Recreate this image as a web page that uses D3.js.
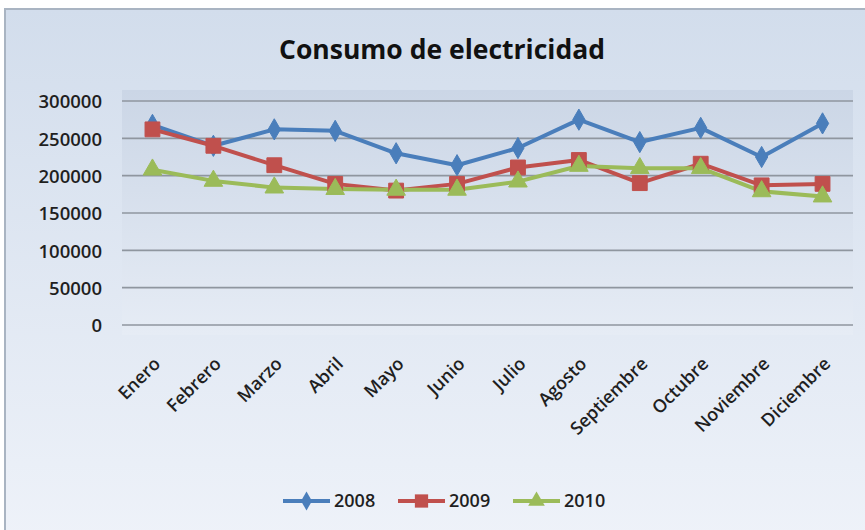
<!DOCTYPE html>
<html>
<head>
<meta charset="utf-8">
<script src="https://cdn.jsdelivr.net/npm/d3@7"></script>
<style>
  html, body { margin: 0; padding: 0; background: #ffffff; }
  svg { display: block; }
</style>
</head>
<body>
<svg id="chart" width="865" height="530"></svg>
<script>
// Monthly electricity consumption, three years
const months = ["Enero", "Febrero", "Marzo", "Abril", "Mayo", "Junio", "Julio",
                "Agosto", "Septiembre", "Octubre", "Noviembre", "Diciembre"];
const years = ["2008", "2009", "2010"];
const values2008 = [268000, 240000, 262000, 260000, 230000, 214000, 237000, 275000, 245000, 264000, 225000, 270000];
const values2009 = [262000, 240000, 214000, 189000, 180000, 189000, 211000, 221000, 190000, 216000, 187000, 189000];
const values2010 = [208000, 193000, 184000, 182000, 181000, 181000, 192000, 213000, 210000, 210000, 179000, 172000];
const yTicks = [0, 50000, 100000, 150000, 200000, 250000, 300000];

const series = [
  { name: years[0], values: values2008, color: "#4a7ebb", marker: d3.symbolDiamond, size: 130 },
  { name: years[1], values: values2009, color: "#c0504d", marker: d3.symbolSquare, size: 220 },
  { name: years[2], values: values2010, color: "#9bbb59", marker: d3.symbolTriangle, size: 150 }
];

const svg = d3.select("#chart");
const font = "'Open Sans', 'Noto Sans', sans-serif";

// Chart background and frame
const defs = svg.append("defs");
const bg = defs.append("linearGradient").attr("id", "bg").attr("x1", 0).attr("y1", 0).attr("x2", 0).attr("y2", 1);
bg.append("stop").attr("offset", "0%").attr("stop-color", "#d2ddec");
bg.append("stop").attr("offset", "100%").attr("stop-color", "#eef2f9");
const pg = defs.append("linearGradient").attr("id", "pg").attr("x1", 0).attr("y1", 0).attr("x2", 0).attr("y2", 1);
pg.append("stop").attr("offset", "0%").attr("stop-color", "#cbd6e6");
pg.append("stop").attr("offset", "100%").attr("stop-color", "#e6ecf5");

svg.append("rect").attr("x", 5).attr("y", 9).attr("width", 870).attr("height", 530)
  .attr("fill", "url(#bg)").attr("stroke", "#a9b4c2").attr("stroke-width", 2);

const margin = { left: 122, right: 12 };
const width = 865 - margin.left - margin.right;

const x = d3.scaleBand().domain(months).range([margin.left, margin.left + width]);
const y = d3.scaleLinear().domain([0, 300000]).range([325, 101]);

// Plot area
svg.append("rect").attr("x", margin.left).attr("y", 90)
  .attr("width", width).attr("height", 245).attr("fill", "url(#pg)");

// Gridlines
svg.append("g").selectAll("line").data(yTicks).join("line")
  .attr("x1", margin.left).attr("x2", margin.left + width)
  .attr("y1", d => y(d)).attr("y2", d => y(d))
  .attr("stroke", "#8f969f").attr("stroke-width", 1.6);

// Y axis labels
const yAxis = d3.axisLeft(y).tickValues(yTicks).tickSize(0).tickPadding(0).tickFormat(d3.format("d"));
const gy = svg.append("g").attr("transform", "translate(102,0)").call(yAxis);
gy.select(".domain").remove();
gy.selectAll("text").attr("font-family", font).attr("font-size", 18.5).attr("font-weight", 600)
  .attr("fill", "#1f1f1f").attr("dy", "0.36em");

// X axis labels (rotated)
const xAxis = d3.axisBottom(x).tickSize(0).tickPadding(0);
const gx = svg.append("g").attr("transform", "translate(0,325)").call(xAxis);
gx.select(".domain").remove();
gx.selectAll("text")
  .attr("font-family", font).attr("font-size", 18).attr("font-weight", 600).attr("fill", "#1f1f1f")
  .attr("text-anchor", "end").attr("dy", 0)
  .attr("transform", "translate(9,40) rotate(-45)");

// Title
svg.append("text").attr("x", 442).attr("y", 59).attr("text-anchor", "middle")
  .attr("font-family", font).attr("font-size", 26).attr("font-weight", 700)
  .attr("textLength", 326).attr("lengthAdjust", "spacingAndGlyphs")
  .attr("fill", "#111").text("Consumo de electricidad");

// Series lines and markers
const cx = m => x(m) + x.bandwidth() / 2;
const line = d3.line().x((d, i) => cx(months[i])).y(d => y(d));

series.forEach(s => {
  svg.append("path").datum(s.values).attr("d", line)
    .attr("fill", "none").attr("stroke", s.color).attr("stroke-width", 4)
    .attr("stroke-linejoin", "round");
});
series.forEach(s => {
  svg.append("g").selectAll("path").data(s.values).join("path")
    .attr("d", d3.symbol().type(s.marker).size(s.size))
    .attr("transform", (d, i) => `translate(${cx(months[i])},${y(d)})`)
    .attr("fill", s.color).attr("stroke", s.color).attr("stroke-width", 1);
});

// Legend
const legendX = [283, 398, 513];
const legendY = 501;
series.forEach((s, i) => {
  const g = svg.append("g").attr("transform", `translate(${legendX[i]},${legendY})`);
  g.append("line").attr("x1", 0).attr("x2", 47).attr("y1", 0).attr("y2", 0)
    .attr("stroke", s.color).attr("stroke-width", 4);
  g.append("path").attr("d", d3.symbol().type(s.marker).size(s.size * 0.8)())
    .attr("transform", "translate(23.5,0)").attr("fill", s.color);
  g.append("text").attr("x", 51).attr("y", 0).attr("dy", "0.36em")
    .attr("font-family", font).attr("font-size", 18).attr("font-weight", 600)
    .attr("fill", "#1f1f1f").text(s.name);
});
</script>
</body>
</html>
